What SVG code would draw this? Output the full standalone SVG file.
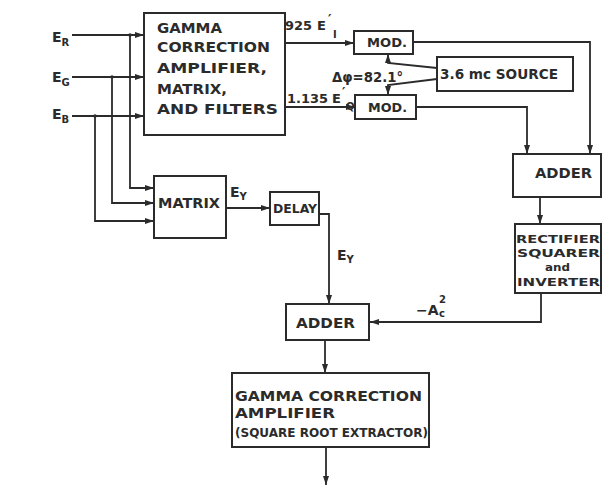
<svg xmlns="http://www.w3.org/2000/svg" width="603" height="486" viewBox="0 0 603 486">
<defs>
<marker id="arr" markerUnits="userSpaceOnUse" markerWidth="9" markerHeight="6" refX="9" refY="3" orient="auto">
<path d="M0,0 L9,3 L0,6 z" fill="#2b2b2b"/>
</marker>
<style>
.box{fill:#fff;stroke:#2b2b2b;stroke-width:2}
.ln{fill:none;stroke:#2b2b2b;stroke-width:1.8;marker-end:url(#arr)}
text{font-family:"DejaVu Sans","Liberation Sans",sans-serif;fill:#2b2b2b;font-size:14px;font-weight:bold}
.s{font-size:10px}
.m{font-size:13px}
.r{font-size:11px}
</style>
</defs>
<rect width="603" height="486" fill="#fff"/>

<g id="connectors">
<path class="ln" d="M72,35 H144"/>
<path class="ln" d="M72,77 H144"/>
<path class="ln" d="M72,116 H144"/>
<path class="ln" d="M130,35 V188 H154"/>
<path class="ln" d="M112,77 V203 H154"/>
<path class="ln" d="M95,116 V221 H154"/>
<circle cx="130" cy="35" r="1.8" fill="#2b2b2b"/>
<circle cx="112" cy="77" r="1.8" fill="#2b2b2b"/>
<circle cx="95" cy="116" r="1.8" fill="#2b2b2b"/>
<path class="ln" d="M285,43 H354"/>
<path class="ln" d="M285,107 H355"/>
<path class="ln" d="M437,68 L388,63 V54"/>
<path class="ln" d="M437,79 L388,85 V95"/>
<path class="ln" d="M413,42 H590 V154"/>
<path class="ln" d="M416,107 H527 V154"/>
<path class="ln" d="M540,197 V224"/>
<path class="ln" d="M541,293 V322 H370"/>
<path class="ln" d="M226,208 H270"/>
<path class="ln" d="M319,214 H329 V304"/>
<path class="ln" d="M325,340 V373"/>
<path class="ln" d="M326,447 V485"/>
</g>

<g id="inputs">
<text x="52" y="42">E<tspan class="s" dy="4">R</tspan></text>
<text x="52" y="82">E<tspan class="s" dy="4">G</tspan></text>
<text x="52" y="119">E<tspan class="s" dy="4">B</tspan></text>
</g>

<g id="gamma1">
<rect class="box" x="144" y="13" width="141" height="122"/>
<text x="157" y="33" textLength="65" lengthAdjust="spacingAndGlyphs">GAMMA</text>
<text x="157" y="52" textLength="113" lengthAdjust="spacingAndGlyphs">CORRECTION</text>
<text x="157" y="73" textLength="110" lengthAdjust="spacingAndGlyphs">AMPLIFIER,</text>
<text x="157" y="94" textLength="70" lengthAdjust="spacingAndGlyphs">MATRIX,</text>
<text x="157" y="114" textLength="121" lengthAdjust="spacingAndGlyphs">AND FILTERS</text>
</g>

<g id="labels-top">
<text class="m" x="285" y="30" textLength="27" lengthAdjust="spacingAndGlyphs">925</text>
<text class="m" x="317" y="30">E</text>
<text class="m" x="328" y="23">′</text>
<text class="s" x="333" y="38">I</text>
<text class="m" x="287" y="103" textLength="41" lengthAdjust="spacingAndGlyphs">1.135</text>
<text class="m" x="332" y="103">E</text>
<text class="m" x="342" y="96">′</text>
<text class="s" x="346" y="110">Q</text>
<text x="332" y="82" textLength="71" lengthAdjust="spacingAndGlyphs">Δφ=82.1°</text>
</g>

<g id="mod1">
<rect class="box" x="354" y="31" width="59" height="23"/>
<text class="m" x="367" y="47" textLength="40" lengthAdjust="spacingAndGlyphs">MOD.</text>
</g>
<g id="mod2">
<rect class="box" x="355" y="95" width="61" height="24"/>
<text class="m" x="368" y="112" textLength="39" lengthAdjust="spacingAndGlyphs">MOD.</text>
</g>
<g id="source">
<rect class="box" x="437" y="57" width="136" height="34"/>
<text x="440" y="79" textLength="118" lengthAdjust="spacingAndGlyphs">3.6 mc SOURCE</text>
</g>

<g id="matrix">
<rect class="box" x="154" y="176" width="72" height="62"/>
<text x="158" y="208" textLength="62" lengthAdjust="spacingAndGlyphs">MATRIX</text>
</g>
<text x="230" y="197">E<tspan class="s" dy="3">Y</tspan></text>

<g id="delay">
<rect class="box" x="270" y="192" width="49" height="33"/>
<text class="m" x="273" y="213" textLength="44" lengthAdjust="spacingAndGlyphs">DELAY</text>
</g>
<text x="337" y="260">E<tspan class="s" dy="3">Y</tspan></text>

<g id="adder1">
<rect class="box" x="513" y="154" width="88" height="43"/>
<text x="535" y="178" textLength="57" lengthAdjust="spacingAndGlyphs">ADDER</text>
</g>

<g id="rectifier">
<rect class="box" x="515" y="224" width="86" height="69"/>
<text class="r" x="516" y="243" textLength="84" lengthAdjust="spacingAndGlyphs">RECTIFIER</text>
<text class="r" x="517" y="257" textLength="83" lengthAdjust="spacingAndGlyphs">SQUARER</text>
<text class="r" x="545" y="271" textLength="25" lengthAdjust="spacingAndGlyphs">and</text>
<text class="r" x="517" y="286" textLength="83" lengthAdjust="spacingAndGlyphs">INVERTER</text>
</g>

<g id="label-ac">
<text x="416" y="315">−A</text>
<text class="s" x="439" y="303" font-size="9">2</text>
<text class="s" x="439" y="317">c</text>
</g>

<g id="adder2">
<rect class="box" x="286" y="304" width="83" height="36"/>
<text x="296" y="328" textLength="59" lengthAdjust="spacingAndGlyphs">ADDER</text>
</g>

<g id="gamma2">
<rect class="box" x="232" y="373" width="197" height="74"/>
<text x="235" y="401" textLength="187" lengthAdjust="spacingAndGlyphs">GAMMA CORRECTION</text>
<text x="235" y="418" textLength="100" lengthAdjust="spacingAndGlyphs">AMPLIFIER</text>
<text class="m" x="235" y="437" textLength="193" lengthAdjust="spacingAndGlyphs">(SQUARE ROOT EXTRACTOR)</text>
</g>
</svg>
